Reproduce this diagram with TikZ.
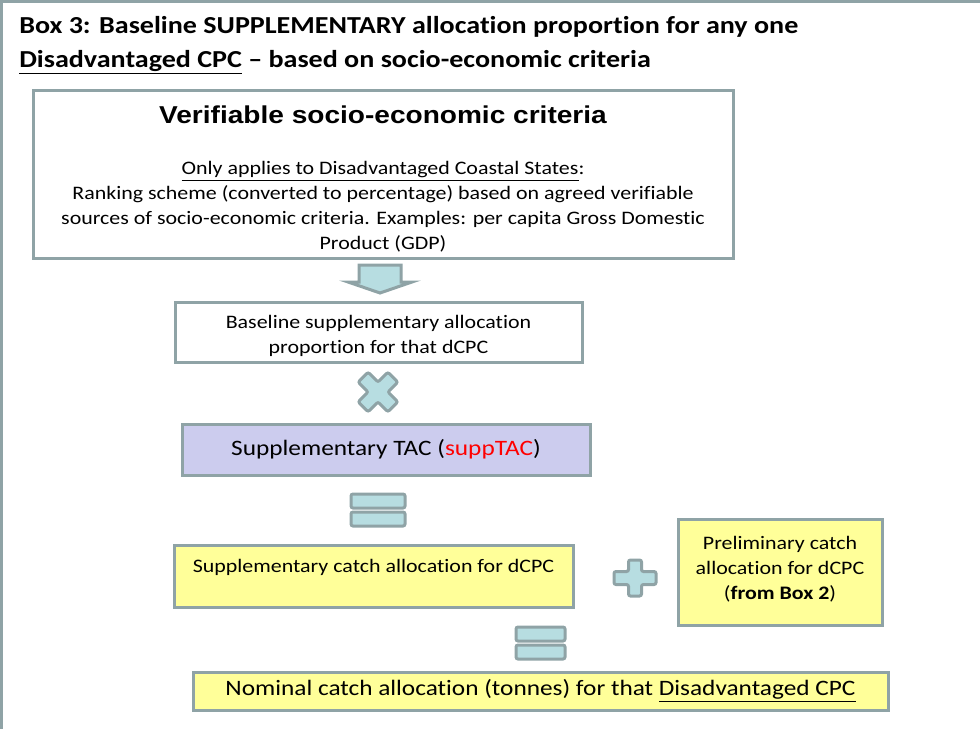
\documentclass[tikz,border=0pt]{standalone}
\usepackage{fontspec}
\setmainfont[FakeStretch=1.15,Ligatures=NoCommon]{Carlito}
\newfontfamily\arialfont[FakeStretch=1.15]{Liberation Sans}
\usetikzlibrary{positioning}
\definecolor{framegray}{HTML}{8FA3A6}
\definecolor{opblue}{HTML}{B7DDE1}
\definecolor{boxyellow}{HTML}{FFFF99}
\definecolor{tacviolet}{HTML}{CCCCEE}
\definecolor{suppred}{HTML}{FF0000}
\tikzset{
    box/.style={
                draw=framegray,
                line width=2.25pt,
                inner sep=0pt,
                align=center,
                fill=white
            },
        yellowbox/.style={
                box,
                fill=boxyellow
            },
        opsign/.style={
                draw=framegray,
                line width=2.25pt,
                fill=opblue,
                rounded corners=1.5pt
            },
        bodytext/.style={
                inner sep=0pt,
                align=center,
                font=\fontsize{14.3}{18.75}\selectfont
            },
        bigtext/.style={
                inner sep=0pt,
                align=center,
                font=\fontsize{16.5}{21}\selectfont
            }
}

\begin{document}
\begin{tikzpicture}[x=0.75pt,y=-0.75pt]
  \useasboundingbox (0,0) rectangle (980,728);
  % Frame and heading
  \draw[framegray,line width=2.25pt] (1.5,1.5) rectangle (1000,750);
  \node[inner sep=0pt,anchor=north west,align=left,font=\fontsize{18.3}{25.5}\selectfont\bfseries] (heading) at (19,16)
    {Box 3: Baseline SUPPLEMENTARY allocation proportion for any one\\
     \underline{Disadvantaged CPC} -- based on socio-economic criteria};
  % Criteria box
  \node[box,minimum width=525pt,minimum height=126pt] (crit) at (383,174) {};
  \node[inner sep=0pt,font=\arialfont\fontsize{18.3}{22}\selectfont\bfseries] (crittitle) at (383,115)
    {Verifiable socio-economic criteria};
  \node[bodytext] (critbody) at (383,207)
    {\underline{Only applies to Disadvantaged Coastal States}:\\
     Ranking scheme (converted to percentage) based on agreed verifiable\\
     sources of socio-economic criteria. Examples: per capita Gross Domestic\\
     Product (GDP)};
  % Down arrow
  \draw[opsign,rounded corners=0pt] (359,265) -- (401,265) -- (401,282) -- (412,282)
    -- (380,293) -- (348,282) -- (359,282) -- cycle;
  % Baseline proportion
  \node[box,minimum width=305.25pt,minimum height=45pt] (baseprop) at (378.5,332) {};
  \node[bodytext] (basetext) at (378.5,336)
    {Baseline supplementary allocation\\ proportion for that dCPC};
  % Times
  \draw[opsign,shift={(378,392)},rotate=45] (-7,-21) -- (7,-21) -- (7,-7) -- (21,-7) -- (21,7)
    -- (7,7) -- (7,21) -- (-7,21) -- (-7,7) -- (-21,7) -- (-21,-7) -- (-7,-7) -- cycle;
  % Supplementary TAC
  \node[box,bigtext,fill=tacviolet,minimum width=306pt,minimum height=38.25pt] (supptac) at (386,449.5)
    {Supplementary TAC (\textcolor{suppred}{suppTAC})};
  % Equals
  \draw[opsign] (351,494) rectangle (405,508);
  \draw[opsign] (351,512) rectangle (405,526);
  % Supplementary catch
  \node[yellowbox,minimum width=299.25pt,minimum height=46.5pt] (suppcatch) at (373.5,576) {};
  \node[bodytext] (suppcatchtext) at (373.5,567) {Supplementary catch allocation for dCPC};
  % Plus
  \draw[opsign,shift={(635,578)}] (-6.5,-18) -- (6.5,-18) -- (6.5,-6.5) -- (21,-6.5) -- (21,6.5)
    -- (6.5,6.5) -- (6.5,18) -- (-6.5,18) -- (-6.5,6.5) -- (-21,6.5) -- (-21,-6.5) -- (-6.5,-6.5) -- cycle;
  % Preliminary catch
  \node[yellowbox,minimum width=153pt,minimum height=79.5pt] (prelim) at (780,572) {};
  \node[bodytext] (prelimtext) at (780,569)
    {Preliminary catch\\ allocation for dCPC\\ (\textbf{from Box 2})};
  % Equals
  \draw[opsign] (516,627) rectangle (565,641);
  \draw[opsign] (516,645) rectangle (565,659);
  % Nominal catch
  \node[yellowbox,bigtext,minimum width=521.25pt,minimum height=28.5pt] (nominal) at (540.5,691)
    {Nominal catch allocation (tonnes) for that \underline{Disadvantaged CPC}};
\end{tikzpicture}
\end{document}
